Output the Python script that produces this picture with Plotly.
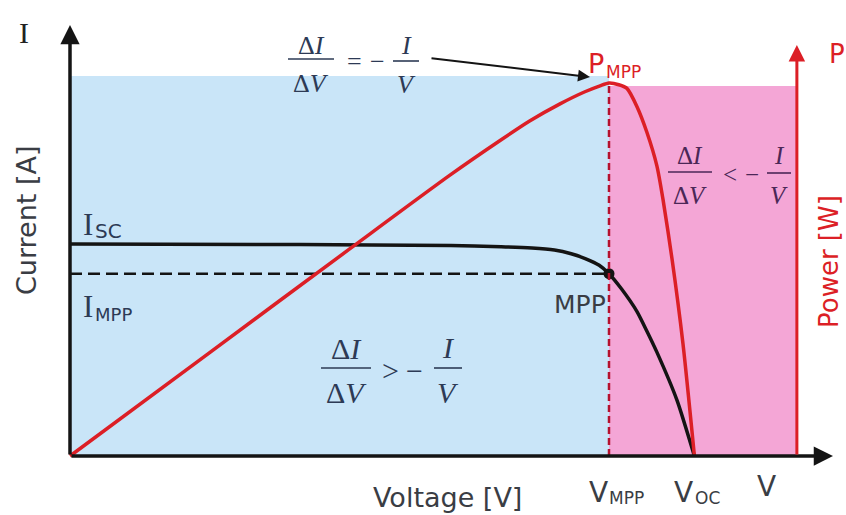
import plotly.graph_objects as go

# ---------------- data ----------------
# I-V curve (voltage in V, current in A)
iv_voltage = [0, 8.2, 13.6, 15.4, 16.5, 17.3, 17.9, 18.4, 18.9, 19.25, 19.7, 20.25, 20.6, 20.96, 21.68, 22.3]
iv_current = [8.0, 7.98, 7.94, 7.9, 7.85, 7.77, 7.63, 7.45, 7.2, 6.88, 6.3, 5.45, 4.72, 3.92, 2.1, 0.0]
# P-V curve (voltage in V, power in W)
pv_voltage = [0, 5, 10, 13.57, 15.36, 16.43, 17.5, 18.39, 18.93, 19.25, 19.6, 19.89, 20.25, 20.6,
              20.96, 21.18, 21.5, 21.89, 22.3]
pv_power = [0, 36.8, 73.6, 99.7, 112, 119, 125, 129.3, 131.4, 132.4, 131.8, 130.5, 124, 115,
            103, 91, 70, 40, 0]
# characteristic points
v_mpp = 19.25
i_mpp = 6.88
p_mpp = 132.4
v_oc = 22.3
i_sc = 8.0
# regions / axes extents
region_blue_top = 14.34      # A
region_pink_top = 13.96      # A
v_axis_end = 27.25           # V
v_power_axis = 25.96         # V
i_axis_end = 16.26           # A
p_axis_end = 145.9           # W

# ---------------- pixel <-> data mapping ----------------
W, H = 846, 515
X0_PX, PX_PER_V = 70.0, 28.0
Y0_PX, PX_PER_A, PX_PER_W = 456.0, 26.5, 2.817


def vx(px):
    return (px - X0_PX) / PX_PER_V


def iy(py):
    return (Y0_PX - py) / PX_PER_A


BLUE = "#c9e5f8"
PINK = "#f4a6d6"
RED = "#dc1f26"
DRED = "#b5122e"
BLACK = "#141414"
GREY = "#3a3d44"
NAVY = "#2d3a55"
PURPLE = "#4b2757"
SERIF = "Liberation Serif"
SANS = "DejaVu Sans"

fig = go.Figure()

shapes = [
    dict(type="rect", xref="x", yref="y", x0=0, x1=v_mpp, y0=0, y1=region_blue_top,
         fillcolor=BLUE, line=dict(width=0), layer="below"),
    dict(type="rect", xref="x", yref="y", x0=v_mpp, x1=v_power_axis, y0=0, y1=region_pink_top,
         fillcolor=PINK, line=dict(width=0), layer="below"),
    # V_MPP dashed marker
    dict(type="line", xref="x", yref="y2", x0=v_mpp, x1=v_mpp, y0=0, y1=p_mpp,
         line=dict(color=DRED, width=2.5, dash="7px,4px")),
]

# I_MPP dashed line
fig.add_trace(go.Scatter(x=[0, v_mpp], y=[i_mpp, i_mpp], mode="lines",
                         line=dict(color=BLACK, width=2.5, dash="12px,6px"),
                         hoverinfo="skip", showlegend=False))
# I-V curve
fig.add_trace(go.Scatter(x=iv_voltage, y=iv_current, mode="lines",
                         line=dict(color=BLACK, width=3.5, shape="spline", smoothing=0.6),
                         hoverinfo="skip", showlegend=False))
# P-V curve
fig.add_trace(go.Scatter(x=pv_voltage, y=pv_power, mode="lines", yaxis="y2",
                         line=dict(color=RED, width=3.5, shape="spline", smoothing=0.7),
                         hoverinfo="skip", showlegend=False))
# MPP dot
fig.add_trace(go.Scatter(x=[v_mpp], y=[i_mpp], mode="markers",
                         marker=dict(color=BLACK, size=11),
                         hoverinfo="skip", showlegend=False))

ann = []


def arrow(x0, y0, x1, y1, color, width, yref="y", head=2, size=1.0):
    ann.append(dict(x=x1, y=y1, ax=x0, ay=y0, xref="x", yref=yref, axref="x", ayref=yref,
                    text="", showarrow=True, arrowhead=head, arrowsize=size,
                    arrowwidth=width, arrowcolor=color))


def txt(px, py, text, size, color, family=SANS, angle=0, xanchor="center"):
    ann.append(dict(x=vx(px), y=iy(py), xref="x", yref="y", text=text, showarrow=False,
                    xanchor=xanchor, yanchor="middle", textangle=angle,
                    font=dict(size=size, color=color, family=family)))


def frac(cx, bar_py, num, den, half_w, num_py, den_py, size, color):
    shapes.append(dict(type="line", xref="x", yref="y", x0=vx(cx - half_w), x1=vx(cx + half_w),
                       y0=iy(bar_py), y1=iy(bar_py), line=dict(color=color, width=1.6)))
    txt(cx, num_py, num, size, color, SERIF)
    txt(cx, den_py, den, size, color, SERIF)


# axes arrows
arrow(0, 0, 0, i_axis_end, BLACK, 3.5, head=2, size=1.1)
arrow(0, 0, v_axis_end, 0, BLACK, 3.5, head=2, size=1.1)
arrow(v_power_axis, 0, v_power_axis, p_axis_end, RED, 3, yref="y2", head=2, size=1.1)

# equation 1 (top) and pointer to P_MPP
frac(311, 59, "Δ<i>I</i>", "Δ<i>V</i>", 23, 45, 83, 26, NAVY)
txt(354, 61, "=", 26, NAVY, SERIF)
txt(377, 61, "−", 26, NAVY, SERIF)
frac(406, 61, "<i>I</i>", "<i>V</i>", 13, 45, 84, 26, NAVY)
ann.append(dict(x=vx(590), y=iy(77), ax=vx(430), ay=iy(58), xref="x", yref="y",
                axref="x", ayref="y", text="", showarrow=True, arrowhead=2,
                arrowsize=1.2, arrowwidth=2, arrowcolor=BLACK))

# equation 2 (blue region)
frac(346, 368, "Δ<i>I</i>", "Δ<i>V</i>", 25, 348, 392, 30, NAVY)
txt(390, 370, "&gt;", 30, NAVY, SERIF)
txt(414, 370, "−", 30, NAVY, SERIF)
frac(448, 368, "<i>I</i>", "<i>V</i>", 14, 347, 392, 30, NAVY)

# equation 3 (pink region)
frac(690, 172, "Δ<i>I</i>", "Δ<i>V</i>", 22, 155, 195, 25, PURPLE)
txt(730, 174, "&lt;", 25, PURPLE, SERIF)
txt(752, 174, "−", 25, PURPLE, SERIF)
frac(779, 173, "<i>I</i>", "<i>V</i>", 12, 155, 195, 25, PURPLE)

# labels
txt(24, 32, "I", 30, "#222222", SERIF)
txt(26, 220, "Current [A]", 27, GREY, angle=-90)
txt(88, 224, "I", 31, NAVY, SERIF)
txt(93, 231, "SC", 20, NAVY, xanchor="left")
txt(88, 306, "I", 31, NAVY, SERIF)
txt(93, 314, "MPP", 18, NAVY, xanchor="left")
txt(580, 304, "MPP", 25, GREY)
txt(596, 63, "P", 27, RED)
txt(604, 72, "MPP", 17, RED, xanchor="left")
txt(837, 54, "P", 26, RED)
txt(829, 262, "Power [W]", 26, RED, angle=-90)
txt(447, 497, "Voltage [V]", 27, GREY)
txt(598, 492, "V", 28, GREY)
txt(607, 498, "MPP", 17, GREY, xanchor="left")
txt(683, 492, "V", 28, GREY)
txt(693, 498, "OC", 17, GREY, xanchor="left")
txt(766, 486, "V", 28, GREY)

fig.update_layout(
    width=W, height=H,
    margin=dict(l=0, r=0, t=0, b=0),
    paper_bgcolor="white", plot_bgcolor="white",
    xaxis=dict(range=[(0 - X0_PX) / PX_PER_V, (W - X0_PX) / PX_PER_V], visible=False, fixedrange=True),
    yaxis=dict(range=[(Y0_PX - H) / PX_PER_A, Y0_PX / PX_PER_A], visible=False, fixedrange=True),
    yaxis2=dict(range=[(Y0_PX - H) / PX_PER_W, Y0_PX / PX_PER_W], visible=False,
                overlaying="y", fixedrange=True),
    shapes=shapes,
    annotations=ann,
    showlegend=False,
)

fig.write_html("out.html")
